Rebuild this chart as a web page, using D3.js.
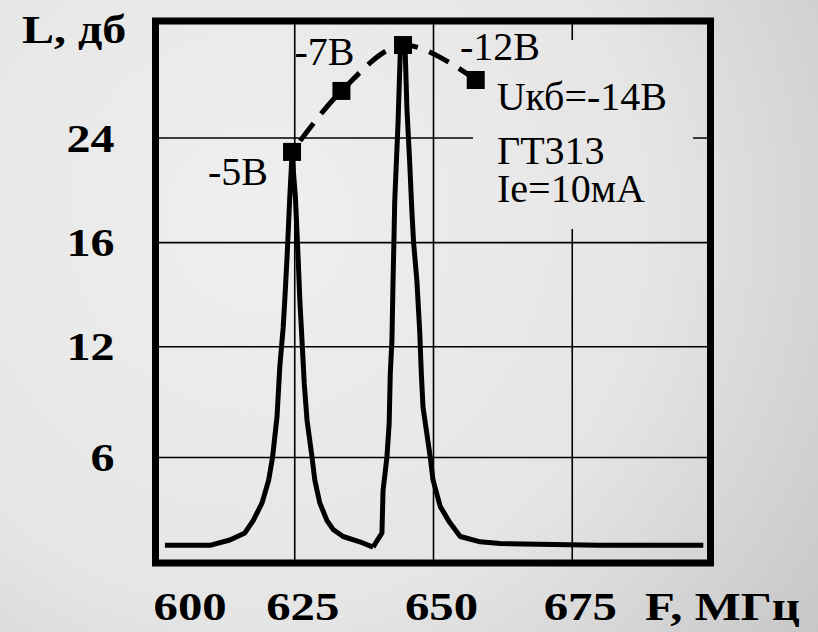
<!DOCTYPE html>
<html>
<head>
    <meta charset="UTF-8">
    <title>L(F)</title>
    <script src="https://d3js.org/d3.v7.min.js"></script>
    <style>
        body { margin: 0; background: #e6e6e6; }
    </style>
</head>
<body>
    <div class="canvas"></div>
    <script>
      // частота, МГц
      const freqTicks = [600, 625, 650, 675];
      const freqGrid = [625, 650, 675];
      // уровень, дб (шкала неравномерная, как на оригинале)
      const levelDomain = [0, 6, 12, 16, 24, 32];
      const levelTicks = [6, 12, 16, 24];

      // АЧХ при Uкб = -5В
      const curveLow = [
        [601.7, 1.0], [609.8, 1.0], [613.4, 1.3], [616.1, 1.7], [617.6, 2.4], [619.2, 3.4],
        [620.4, 4.7], [621.1, 6.0], [621.9, 8.2], [622.4, 10.9], [623.0, 12.7], [623.3, 13.8],
        [623.7, 15.4], [624.2, 19.5], [624.6, 22.7], [625.2, 19.5], [625.7, 15.4], [626.0, 13.8],
        [626.4, 12.2], [626.8, 10.0], [627.3, 8.0], [628.2, 6.0], [628.7, 4.7], [629.6, 3.4],
        [630.9, 2.4], [632.0, 1.9], [633.8, 1.5], [636.8, 1.2], [639.2, 0.9]
      ];
      // АЧХ при Uкб = -12В
      const curveHigh = [
        [639.2, 0.9], [640.8, 1.7], [641.0, 4.1], [641.7, 6.0], [642.1, 7.8], [642.3, 10.5],
        [642.6, 12.2], [642.8, 14.5], [643.0, 16.9], [643.1, 19.1], [643.7, 25.0], [644.1, 29.8],
        [644.5, 30.4], [645.0, 29.8], [645.3, 26.0], [645.8, 22.1], [646.2, 18.3], [646.5, 16.0],
        [647.1, 14.5], [647.6, 12.6], [647.9, 10.5], [648.2, 8.7], [649.5, 6.0], [650.0, 4.7],
        [651.3, 3.2], [653.0, 2.3], [654.9, 1.5], [656.1, 1.4], [658.5, 1.2], [662.1, 1.1],
        [680.0, 1.0], [698.7, 1.0]
      ];
      // вершины характеристик при разных Uкб
      const peakNames = ['-5В', '-7В', '-12В', 'Uкб=-14В'];
      const peakFreq = [624.6, 633.5, 644.6, 657.7];
      const peakLevel = [22.9, 27.2, 30.35, 27.95];

      const FONT = 'Liberation Serif, Times New Roman, serif';
      const FONT_REG = 'Times New Roman';
      const width = 818;
      const height = 632;
      const [mt, mb, mr, ml] = [21, 69, 107.5, 155.5];
      const graphWidth = width - (ml + mr);
      const graphHeight = height - (mt + mb);

      const svg = d3.select('.canvas')
                      .append('svg')
                      .attr('width', width)
                      .attr('height', height);

      // фон с лёгким затемнением к правому нижнему углу
      // (второй градиент сдвинут под систему координат графика)
      const defs = svg.append('defs');
      function bgGradient(id, sx, sy) {
        const g = defs.append('radialGradient')
                      .attr('id', id)
                      .attr('gradientUnits', 'userSpaceOnUse')
                      .attr('cx', 260 - sx).attr('cy', 220 - sy).attr('r', 720);
        g.append('stop').attr('offset', '0').attr('stop-color', '#efefef');
        g.append('stop').attr('offset', '0.55').attr('stop-color', '#e5e5e5');
        g.append('stop').attr('offset', '1').attr('stop-color', '#c4c4c4');
      }
      bgGradient('bg', 0, 0);
      bgGradient('bgGraph', ml, mt);

      svg.append('rect')
          .attr('width', width)
          .attr('height', height)
          .attr('fill', 'url(#bg)');

      const x = d3.scaleLinear()
                    .domain([600, 700])
                    .range([0, graphWidth]);

      const levelFrac = [0, 0.1956, 0.4, 0.592, 0.785, 1];
      const y = d3.scaleLinear()
                    .domain(levelDomain)
                    .range(levelFrac.map(f => graphHeight - f * graphHeight));

      const graph = svg.append('g')
                        .attr('transform', `translate(${ml}, ${mt})`);

      // сетка + подписи по X
      const xAxisG = graph.append('g')
                            .attr('transform', `translate(0, ${graphHeight})`)
                            .call(d3.axisBottom(x)
                                      .tickValues(freqTicks)
                                      .tickSize(-graphHeight)
                                      .tickFormat(d3.format('d')));
      // сетка + подписи по Y
      const yAxisG = graph.append('g')
                            .call(d3.axisLeft(y)
                                      .tickValues(levelTicks)
                                      .tickSize(-graphWidth)
                                      .tickFormat(d3.format('d')));

      [xAxisG, yAxisG].forEach(g => {
        g.attr('font-family', FONT);
        g.select('.domain').remove();
        g.selectAll('.tick line')
          .attr('stroke', '#000')
          .attr('stroke-width', 1.6);
        g.selectAll('.tick text')
          .attr('font-size', 40)
          .attr('font-weight', 'bold')
          .attr('fill', '#000')
          .attr('x', 0).attr('y', 0).attr('dy', 0);
      });
      xAxisG.selectAll('.tick line').filter(d => !freqGrid.includes(d)).remove();

      xAxisG.selectAll('.tick text')
          .attr('text-anchor', (d, i) => i === 0 ? 'start' : 'middle')
          .attr('transform', (d, i) => `translate(${i === 0 ? -2.5 : 8}, 57) scale(1.22, 1)`);
      yAxisG.selectAll('.tick text')
          .attr('text-anchor', 'end')
          .attr('transform', 'translate(-41, 13.5) scale(1.2, 1)');

      // подложка под пояснительный текст (перекрывает сетку)
      graph.append('rect')
          .attr('x', 473 - ml).attr('y', 40 - mt)
          .attr('width', 220).attr('height', 189)
          .attr('fill', 'url(#bgGraph)');

      const line = d3.line()
                      .x(d => x(d[0]))
                      .y(d => y(d[1]));

      [curveLow, curveHigh].forEach(c => {
        graph.append('path')
            .attr('fill', 'none')
            .attr('stroke', '#000')
            .attr('stroke-width', 5)
            .attr('stroke-linejoin', 'round')
            .attr('d', line(c));
      });

      // траектория вершин (пунктир)
      const peaks = peakFreq.map((f, i) => ({ f, l: peakLevel[i], name: peakNames[i] }));
      const peakLine = d3.line()
                          .x(d => x(d.f))
                          .y(d => y(d.l))
                          .curve(d3.curveCatmullRom);

      graph.append('path')
          .attr('fill', 'none')
          .attr('stroke', '#000')
          .attr('stroke-width', 5)
          .attr('stroke-dasharray', '22,12')
          .attr('stroke-dashoffset', -14)
          .attr('d', peakLine(peaks));

      graph.selectAll('.peak')
          .data(peaks)
          .enter()
          .append('rect')
          .attr('class', 'peak')
          .attr('x', d => x(d.f) - 9)
          .attr('y', d => y(d.l) - 9)
          .attr('width', 18)
          .attr('height', 18)
          .attr('fill', '#000');

      // подписи у вершин
      const labelPos = [
        { dx: -24, dy: 33, anchor: 'end' },
        { dx: 13, dy: -26, anchor: 'end' },
        { dx: 57, dy: 15, anchor: 'start' },
        { dx: 21, dy: 30, anchor: 'start' }
      ];
      const notes = graph.append('g');

      notes.selectAll('.peak-label')
          .data(peaks)
          .enter()
          .append('text')
          .attr('class', 'peak-label')
          .attr('font-family', FONT_REG)
          .attr('font-size', 40)
          .attr('x', (d, i) => x(d.f) + labelPos[i].dx)
          .attr('y', (d, i) => y(d.l) + labelPos[i].dy)
          .attr('text-anchor', (d, i) => labelPos[i].anchor)
          .text(d => d.name);

      notes.append('text')
          .attr('font-family', FONT_REG)
          .attr('font-size', 40)
          .attr('x', 497 - ml).attr('y', 164 - mt)
          .text('ГТ313');
      notes.append('text')
          .attr('font-family', FONT_REG)
          .attr('font-size', 40)
          .attr('x', 497 - ml).attr('y', 202 - mt)
          .text('Ie=10мА');

      // рамка
      graph.append('rect')
          .attr('width', graphWidth)
          .attr('height', graphHeight)
          .attr('fill', 'none')
          .attr('stroke', '#000')
          .attr('stroke-width', 7);

      // подписи осей
      const axisTitles = svg.append('g')
                              .attr('font-family', FONT)
                              .attr('font-size', 40)
                              .attr('font-weight', 'bold')
                              .attr('fill', '#000');
      axisTitles.append('text')
          .attr('transform', 'translate(22, 43) scale(1.2, 1)')
          .text('L, дб');
      axisTitles.append('text')
          .attr('transform', 'translate(645, 620) scale(1.22, 1)')
          .text('F, МГц');
    </script>
</body>
</html>
